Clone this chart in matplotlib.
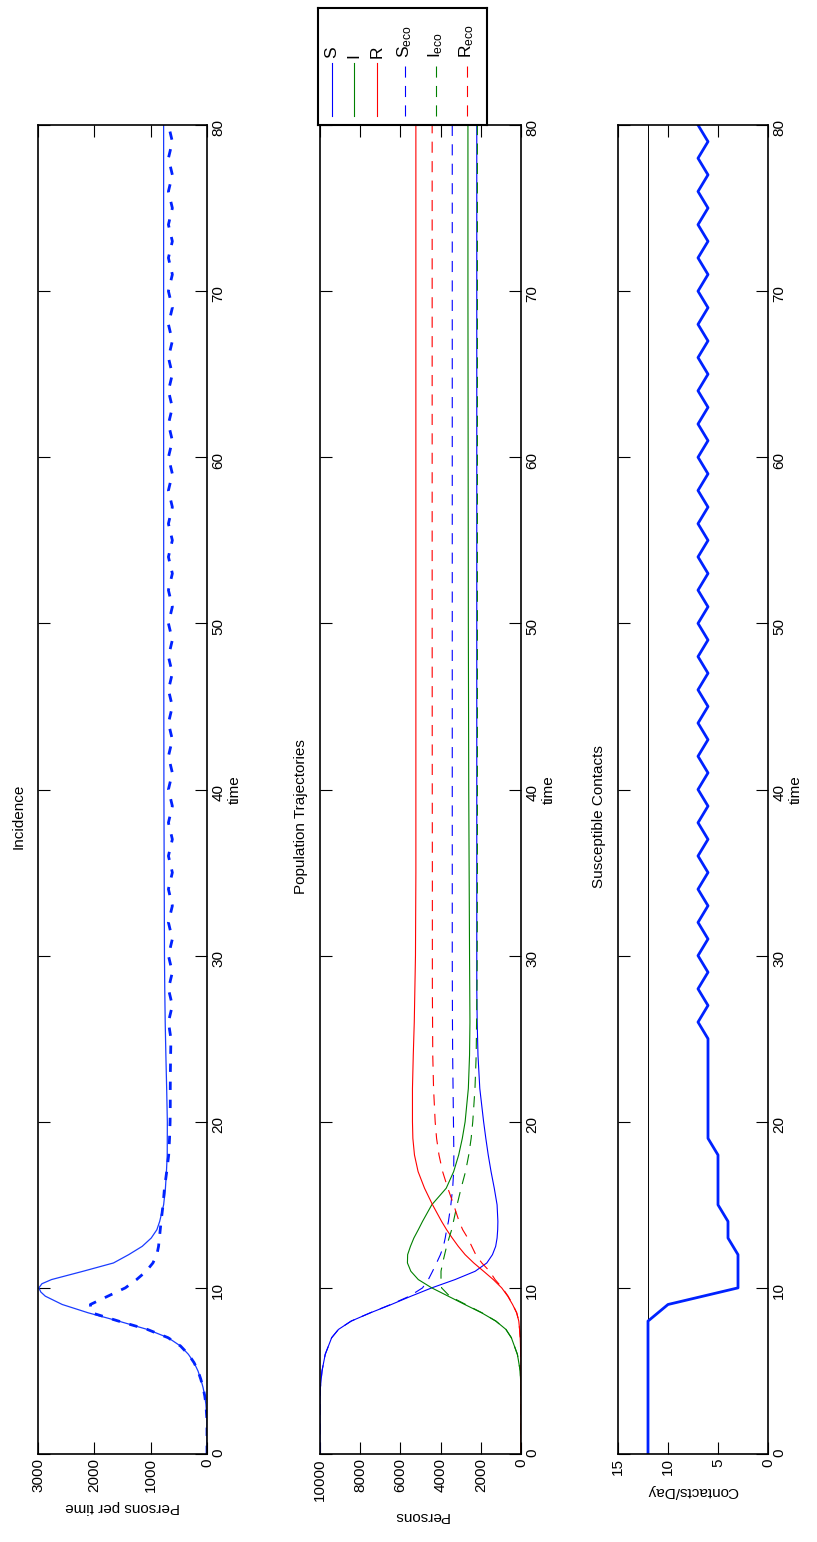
import matplotlib
matplotlib.use("Agg")
import matplotlib.pyplot as plt

plt.rcParams['font.family'] = ['Liberation Sans', 'DejaVu Sans']
plt.rcParams['mathtext.fontset'] = 'custom'
plt.rcParams['mathtext.rm'] = 'Liberation Sans'
plt.rcParams['mathtext.it'] = 'Liberation Sans:italic'
plt.rcParams['font.size'] = 11
plt.rcParams['lines.scale_dashes'] = False

# ---- incidence (persons per time) ----
inc_t = [0, 2, 3, 3.5, 4, 4.5, 5, 5.5, 6, 6.5, 7, 7.5, 8, 8.5, 9, 9.5, 9.75, 10, 10.25, 10.5, 11, 11.5,
         12, 12.5, 13, 13.5, 14, 15, 16, 17, 18, 20, 22, 24, 26, 28, 30, 40, 50, 60, 70, 80]
inc = [0, 0, 20, 40, 70, 110, 160, 230, 330, 470, 690, 1060, 1570, 2110, 2570, 2870, 2950, 2985, 2930, 2760, 2200, 1660,
       1390, 1150, 990, 890, 840, 770, 738, 720, 706, 704, 716, 730, 742, 750, 755, 765, 768, 770, 770, 770]

inc_eco_t = [0, 2, 3, 3.5, 4, 4.5, 5, 5.5, 6, 6.5, 7, 7.5, 8, 8.5, 9, 9.5, 10, 10.5, 11, 11.5,
             12, 12.5, 13, 14, 15, 16, 17, 18, 19, 20, 21, 22, 23, 24, 25,
             26, 27, 28, 29, 30, 31, 32, 33, 34, 35, 36, 37, 38, 39, 40, 41, 42, 43, 44, 45,
             46, 47, 48, 49, 50, 51, 52, 53, 54, 55, 56, 57, 58, 59, 60, 61, 62, 63, 64, 65,
             66, 67, 68, 69, 70, 71, 72, 73, 74, 75, 76, 77, 78, 79, 80]
inc_eco = [0, 0, 20, 40, 70, 110, 160, 230, 330, 470, 690, 1060, 1570, 2050, 2070, 1760, 1450, 1250, 1080, 960,
           890, 860, 845, 815, 780, 755, 715, 680, 665, 655, 652, 652, 650, 646, 640,
           685, 615, 685, 615, 685, 615, 685, 615, 685, 615, 685, 615, 685, 615, 685, 615, 685, 615, 685, 615,
           685, 615, 685, 615, 685, 615, 685, 615, 685, 615, 685, 615, 685, 615, 685, 615, 685, 615, 685, 615,
           685, 615, 685, 615, 685, 615, 685, 615, 685, 615, 685, 615, 685, 615, 685]

# ---- population trajectories ----
pop_t = [0, 2, 3, 4, 5, 6, 7, 7.5, 8, 8.5, 9, 9.5, 10, 10.5, 11, 11.5, 12, 12.5, 13, 13.5,
         14, 15, 16, 17, 18, 19, 20, 22, 24, 26, 28, 30, 35, 40, 50, 60, 70, 80]
S = [10000, 10000, 10000, 9980, 9900, 9740, 9420, 9080, 8450, 7490, 6450, 5470, 4440, 3280, 2280, 1700, 1420, 1260, 1190, 1160,
     1150, 1190, 1330, 1490, 1630, 1750, 1860, 2050, 2140, 2180, 2200, 2200, 2200, 2200, 2200, 2200, 2200, 2200]
I = [0, 0, 0, 5, 40, 180, 480, 750, 1250, 1960, 2800, 3620, 4440, 5110, 5480, 5650, 5640, 5500, 5330, 5110,
     4900, 4440, 3720, 3350, 3100, 2920, 2780, 2620, 2560, 2540, 2550, 2560, 2580, 2600, 2620, 2630, 2640, 2640]
R = [0, 0, 0, 0, 0, 10, 40, 70, 110, 215, 420, 660, 960, 1380, 1860, 2350, 2780, 3120, 3420, 3700,
     3950, 4400, 4800, 5120, 5300, 5380, 5400, 5400, 5360, 5310, 5280, 5250, 5230, 5230, 5230, 5230, 5230, 5230]
S_eco = [10000, 10000, 10000, 9980, 9900, 9740, 9420, 9080, 8450, 7500, 6480, 5550, 4900, 4610, 4400, 4200, 4010, 3860, 3770, 3700,
         3610, 3490, 3400, 3350, 3340, 3350, 3360, 3380, 3400, 3410, 3415, 3420, 3420, 3420, 3420, 3420, 3420, 3420]
I_eco = [0, 0, 0, 5, 40, 180, 480, 750, 1250, 1940, 2750, 3550, 3950, 3980, 3980, 3900, 3800, 3700, 3580, 3450,
         3360, 3180, 2980, 2760, 2600, 2480, 2400, 2290, 2230, 2210, 2190, 2180, 2170, 2170, 2170, 2170, 2170, 2170]
R_eco = [0, 0, 0, 0, 0, 10, 40, 70, 110, 215, 410, 640, 930, 1290, 1560, 1950, 2250, 2450, 2650, 2900,
         3080, 3350, 3640, 3900, 4080, 4200, 4270, 4350, 4390, 4400, 4410, 4410, 4410, 4415, 4420, 4420, 4420, 4420]

# ---- susceptible contacts ----
contact_t = list(range(0, 81))
contacts = [12, 12, 12, 12, 12, 12, 12, 12, 12, 10, 3, 3, 3, 4, 4, 5, 5, 5, 5, 6,
            6, 6, 6, 6, 6, 6, 7, 6, 7, 6, 7, 6, 7, 6, 7, 6, 7, 6, 7, 6,
            7, 6, 7, 6, 7, 6, 7, 6, 7, 6, 7, 6, 7, 6, 7, 6, 7, 6, 7, 6,
            7, 6, 7, 6, 7, 6, 7, 6, 7, 6, 7, 6, 7, 6, 7, 6, 7, 6, 7, 6, 7]
contacts_normal = 12

time_ticks = [0, 10, 20, 30, 40, 50, 60, 70, 80]

W, H = 817, 1542
fig = plt.figure(figsize=(W / 100, H / 100), dpi=100)


def panel(x0, x1, xmax, xticks, xlabel, title):
    ax = fig.add_axes([x0 / W, 1 - 1454 / H, (x1 - x0) / W, 1329 / H])
    ax.set_xlim(xmax, 0)
    ax.set_ylim(0, 80)
    ax.set_xticks(xticks)
    ax.set_yticks(time_ticks)
    ax.yaxis.set_label_position('right')
    ax.tick_params(axis='both', direction='in', length=8.5, width=0.8,
                   top=True, bottom=True, left=True, right=True,
                   labelleft=False, labelright=True, labelrotation=90, pad=3)
    for s in ax.spines.values():
        s.set_linewidth(1.2)
    ax.set_xlabel(xlabel, rotation=180, labelpad=6)
    ax.set_ylabel('time', rotation=90, labelpad=2)
    ax.annotate(title, xy=(0, 0.48), xycoords='axes fraction', xytext=(-14, 0),
                textcoords='offset points', rotation=90, ha='center', va='center')
    return ax


# Incidence
ax1 = panel(38, 207, 3000, [0, 1000, 2000, 3000], 'Persons per time', 'Incidence')
ax1.plot(inc, inc_t, color='#1a3cff', lw=0.9)
ax1.plot(inc_eco, inc_eco_t, color='#0022ff', lw=2, dashes=(6, 7))

# Population trajectories
ax2 = panel(320, 521, 10000, [0, 2000, 4000, 6000, 8000, 10000], 'Persons', 'Population Trajectories')
series = [(S, 'b', '-'), (I, 'g', '-'), (R, 'r', '-'),
          (S_eco, 'b', '--'), (I_eco, 'g', '--'), (R_eco, 'r', '--')]
for vals, c, ls in series:
    if ls == '-':
        ax2.plot(vals, pop_t, color=c, lw=0.8)
    else:
        ax2.plot(vals, pop_t, color=c, lw=0.8, dashes=(8, 6))

# Susceptible contacts
ax3 = panel(618, 768, 15, [0, 5, 10, 15], 'Contacts/Day', 'Susceptible Contacts')
ax3.axvline(contacts_normal, color='black', lw=0.7)
ax3.plot(contacts, contact_t, color='#0022ff', lw=2)

# legend drawn rotated, above the middle panel
lg = fig.add_axes([318 / W, 1 - 125 / H, 169 / W, 117 / H])
lg.set_xlim(0, 1)
lg.set_ylim(0, 1)
lg.set_xticks([])
lg.set_yticks([])
for s in lg.spines.values():
    s.set_linewidth(1.5)
labels = ['S', 'I', 'R', r'S$_{\mathrm{eco}}$', r'I$_{\mathrm{eco}}$', r'R$_{\mathrm{eco}}$']
xs = [0.081, 0.213, 0.349, 0.515, 0.698, 0.882]
for (vals, c, ls), lab, x in zip(series, labels, xs):
    if ls == '-':
        lg.plot([x, x], [0.077, 0.53], color=c, lw=0.8)
    else:
        lg.plot([x, x], [0.077, 0.53], color=c, lw=0.8, dashes=(8, 6))
    lg.text(x, 0.575, lab, rotation=90, ha='center', va='bottom', fontsize=12.5)

fig.savefig('out.png', dpi=100)
